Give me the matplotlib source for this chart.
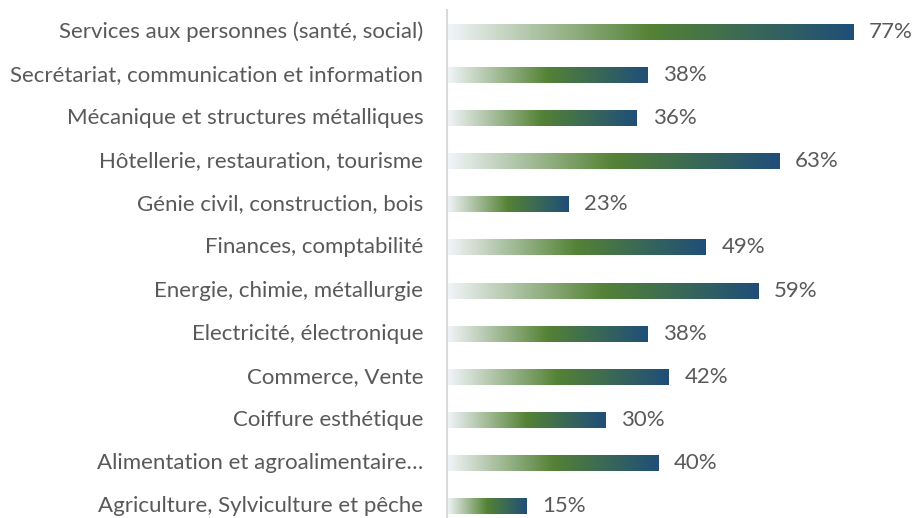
import numpy as np
import matplotlib.pyplot as plt
from matplotlib.colors import LinearSegmentedColormap

categories = ["Services aux personnes (santé, social)",
              "Secrétariat, communication et information",
              "Mécanique et structures métalliques",
              "Hôtellerie, restauration, tourisme",
              "Génie civil, construction, bois",
              "Finances, comptabilité",
              "Energie, chimie, métallurgie",
              "Electricité, électronique",
              "Commerce, Vente",
              "Coiffure esthétique",
              "Alimentation et agroalimentaire…",
              "Agriculture, Sylviculture et pêche"]
values = [77, 38, 36, 63, 23, 49, 59, 38, 42, 30, 40, 15]

plt.rcParams['font.family'] = ['Lato', 'DejaVu Sans']
grad = LinearSegmentedColormap.from_list("g", [(0, "#f2f5fa"), (0.5, "#548235"), (1, "#1f4e79")])

fig = plt.figure(figsize=(9.13, 5.18), dpi=100)
ax = fig.add_axes([447 / 913, 0, 459 / 913, 1])
xmax = 87

h = 0.37
g = np.linspace(0, 1, 256).reshape(1, -1)
for i, v in enumerate(values):
    ax.imshow(g, cmap=grad, aspect='auto', extent=(0, v, i + h / 2, i - h / 2),
              interpolation='bilinear')
    ax.text(v + 3, i, f"{v}%", va='center', ha='left', fontsize=16, color='#595959')
    ax.text(-4.5, i, categories[i], va='center', ha='right', fontsize=16, color='#595959')

ax.plot([0, 0], [-0.5, 11.3], color='#d9d9d9', lw=1.5, clip_on=False)
ax.set_xlim(0, xmax)
ax.set_ylim(11 + 12 / 43.1, -32 / 43.1)
ax.axis('off')

plt.savefig("out.png", dpi=100)
